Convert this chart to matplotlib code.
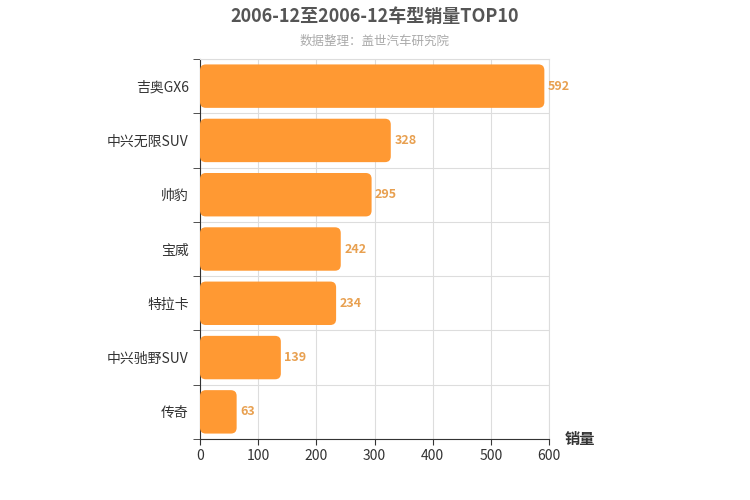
import matplotlib
matplotlib.use("Agg")
import matplotlib.pyplot as plt
from matplotlib.patches import FancyBboxPatch

plt.rcParams['font.family'] = ['Noto Sans CJK SC']

categories = ["吉奥GX6", "中兴无限SUV", "帅豹", "宝威", "特拉卡", "中兴驰野SUV", "传奇"]
values = [592, 328, 295, 242, 234, 139, 63]
xticks = [0, 100, 200, 300, 400, 500, 600]

fig = plt.figure(figsize=(7.5, 5), dpi=100)
ax = fig.add_axes([200/750, 1-439/500, 349/750, 380/500])
n = len(categories)
ax.set_xlim(0, 600)
ax.set_ylim(n - 0.5, -0.5)
h = 0.8
asp = (n / 380) / (600 / 349)
for i, v in enumerate(values):
    p = FancyBboxPatch((0, i - h/2), v, h,
                       boxstyle="round,pad=0,rounding_size=10",
                       mutation_aspect=asp, fc="#FF9933", ec="none", zorder=3)
    ax.add_patch(p)
    ax.text(v + 6, i, str(v), va="center", ha="left", color="#E8A050",
            fontsize=9, fontweight="bold", zorder=4)

ax.set_xticks(xticks)
ax.set_xticklabels([str(t) for t in xticks], fontsize=10, color="#333333")
ax.set_yticks(range(n))
ax.set_yticklabels(categories, fontsize=10, color="#333333")
ax.tick_params(axis='y', length=0, pad=8)
ax.tick_params(axis='x', length=4, color="#333333")
ax.set_yticks([i + 0.5 for i in range(-1, n)], minor=True)
ax.tick_params(axis='y', which='minor', length=5, color="#333333")
ax.grid(True, axis='x', color="#dddddd", zorder=0)
ax.grid(True, axis='y', which='minor', color="#dddddd", zorder=0)
for s in ['top', 'right']:
    ax.spines[s].set_color("#dddddd")
ax.spines['left'].set_color("#333333")
ax.spines['bottom'].set_color("#333333")

fig.text(0.5, 1-16/500, "2006-12至2006-12车型销量TOP10", ha="center", va="center",
         fontsize=13, fontweight="bold", color="#555555")
fig.text(0.5, 1-41/500, "数据整理：盖世汽车研究院", ha="center", va="center",
         fontsize=9, color="#aaaaaa")
fig.text(565/750, 1-439/500, "销量", ha="left", va="center", fontsize=11,
         fontweight="bold", color="#333333")
fig.savefig("out.png", dpi=100)
